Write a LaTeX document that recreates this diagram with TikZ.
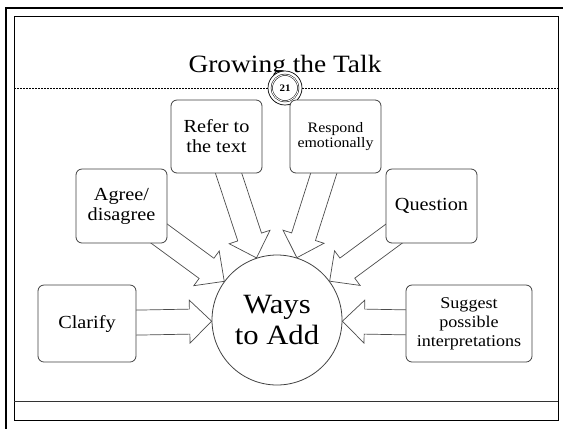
\documentclass[tikz,border=0pt]{standalone}
\usepackage{fontspec}
\setmainfont{Liberation Serif}[FakeStretch=1.1]
\usetikzlibrary{calc,backgrounds}
\tikzset{
  bubble/.style={draw=black!75, line width=0.8bp, fill=white, rounded corners=6bp,
    align=center, inner sep=2bp},
  hub/.style={circle, draw=black!75, line width=0.8bp, fill=white,
    minimum size=130bp, inner sep=0pt, align=center},
  fatarrow/.style={draw=black!70, line width=0.7bp, fill=white, line join=miter},
  bigtext/.style={font=\fontsize{18.5}{20}\selectfont},
  smalltext/.style={font=\fontsize{14.5}{15.5}\selectfont}
}

\begin{document}
\begin{tikzpicture}[x=1bp,y=-1bp]
  \useasboundingbox (0,0) rectangle (563,428);
  \clip (0,0) rectangle (563,428);
  % slide frame
  \draw[line width=2.5bp] (6,450) |- (590,8);
  \draw[line width=0.9bp] (14,16) rectangle (558,420);
  \draw[black!80, line width=1bp] (14,401) -- (558,401);
  \draw[dash pattern=on 2bp off 1bp, line width=0.6bp] (14,88) -- (558,88);
  \node[font=\fontsize{25}{27}\selectfont, anchor=base] (title) at (285,72) {Growing the Talk};
  \node[circle, draw, fill=white, minimum size=34bp, inner sep=0pt, line width=0.7bp,
    font=\fontsize{10}{10}\selectfont\bfseries] (pagenum) at (285,88) {21};
  \draw[double, double distance=0.9bp, line width=0.5bp] (pagenum.center) circle (13.2bp);

  % hub and boxes
  \node[hub, font=\fontsize{28}{32}\selectfont] (hub) at (277,320) {Ways\\to Add};
  \node[bubble, bigtext, minimum width=91bp, minimum height=73bp] (refer) at (216.5,136.5) {Refer to\\the text};
  \node[bubble, smalltext, minimum width=91bp, minimum height=73bp] (respond) at (335.5,136.5) {Respond\\emotionally};
  \node[bubble, bigtext, minimum width=91bp, minimum height=74bp] (agree) at (121.5,206) {Agree/\\disagree};
  \node[bubble, bigtext, minimum width=91bp, minimum height=74bp] (question) at (431.5,206) {Question};
  \node[bubble, bigtext, minimum width=98bp, minimum height=77bp] (clarify) at (87,323.5) {Clarify};
  \node[bubble, font=\fontsize{16.5}{19}\selectfont, minimum width=126bp, minimum height=77bp] (suggest) at (469,323.5) {Suggest\\possible\\interpretations};

  % block arrows into the hub
  \begin{scope}[on background layer]
    \foreach \n in {clarify,agree,refer,respond,question,suggest}{
      \path (\n.center) -- (hub) coordinate[pos=1] (tip);
      \coordinate (base) at ($(tip)!22bp!(\n.center)$);
      \draw[fatarrow] ($(\n.center)!12.5bp!90:(tip)$) -- ($(base)!12.5bp!90:(tip)$)
        -- ($(base)!21.5bp!90:(tip)$) -- (tip) -- ($(base)!21.5bp!-90:(tip)$)
        -- ($(base)!12.5bp!-90:(tip)$) -- ($(\n.center)!12.5bp!-90:(tip)$) -- cycle;
    }
  \end{scope}
\end{tikzpicture}
\end{document}
